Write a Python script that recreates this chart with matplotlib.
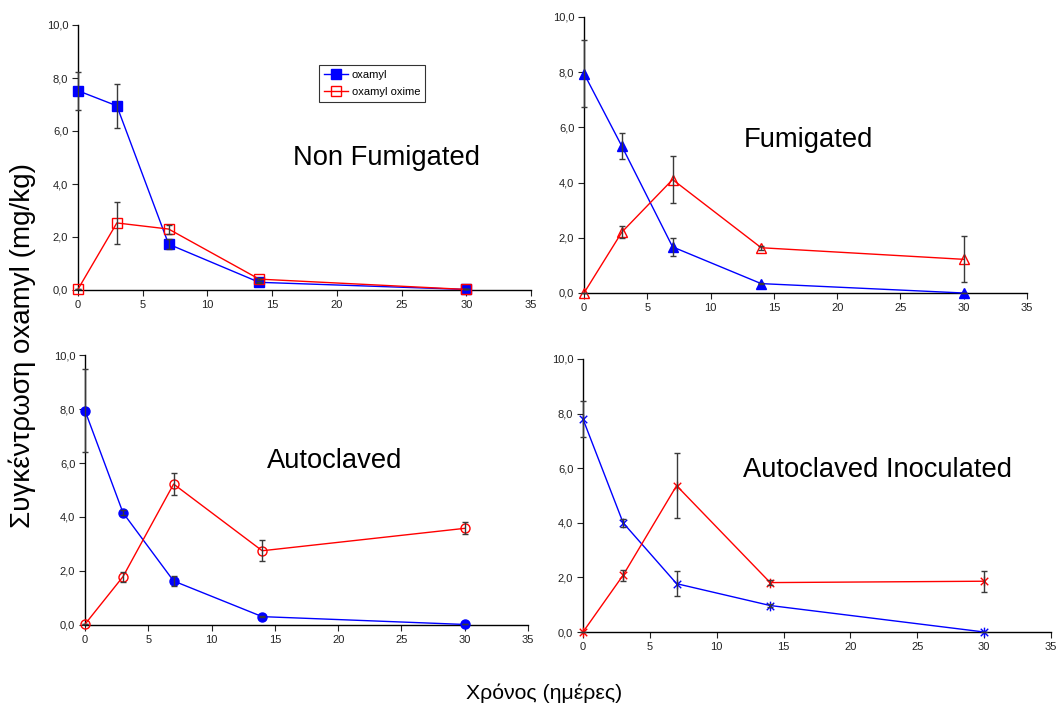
import matplotlib
matplotlib.use("Agg")
import matplotlib.pyplot as plt
from matplotlib.path import Path
from matplotlib.ticker import FuncFormatter, MultipleLocator

plt.rcParams['font.family'] = ['Liberation Sans', 'DejaVu Sans']

days = [0, 3, 7, 14, 30]

titles = ["Non Fumigated", "Fumigated", "Autoclaved", "Autoclaved Inoculated"]

oxamyl_nonfum = [7.52, 6.95, 1.73, 0.29, 0.02]
oxamyl_nonfum_err = [0.72, 0.84, 0.18, 0.03, 0.0]
oxime_nonfum = [0.03, 2.53, 2.30, 0.41, 0.02]
oxime_nonfum_err = [0.0, 0.80, 0.17, 0.05, 0.0]

oxamyl_fum = [7.95, 5.31, 1.67, 0.34, 0.0]
oxamyl_fum_err = [1.20, 0.47, 0.33, 0.03, 0.0]
oxime_fum = [0.0, 2.21, 4.11, 1.64, 1.22]
oxime_fum_err = [0.0, 0.20, 0.85, 0.08, 0.83]

oxamyl_auto = [7.94, 4.16, 1.63, 0.31, 0.02]
oxamyl_auto_err = [1.55, 0.10, 0.20, 0.03, 0.0]
oxime_auto = [0.03, 1.79, 5.22, 2.75, 3.58]
oxime_auto_err = [0.0, 0.19, 0.40, 0.39, 0.22]

oxamyl_inoc = [7.80, 4.00, 1.77, 0.97, 0.0]
oxamyl_inoc_err = [0.65, 0.15, 0.46, 0.07, 0.0]
oxime_inoc = [0.0, 2.08, 5.36, 1.81, 1.86]
oxime_inoc_err = [0.0, 0.20, 1.20, 0.08, 0.38]

series_names = ["oxamyl", "oxamyl oxime"]

star = Path([(-1, -1), (1, 1), (-1, 1), (1, -1), (0, -1.3), (0, 1.3)],
            [Path.MOVETO, Path.LINETO, Path.MOVETO, Path.LINETO, Path.MOVETO, Path.LINETO])

W, H = 1057, 708
fig = plt.figure(figsize=(W / 100, H / 100), dpi=100)

def rect(x0, x1, ytop, ybot):
    return [x0 / W, 1 - ybot / H, (x1 - x0) / W, (ybot - ytop) / H]

panels = [
    (rect(78, 531, 25, 290), oxamyl_nonfum, oxamyl_nonfum_err, oxime_nonfum, oxime_nonfum_err, 's', 6.5),
    (rect(584, 1027, 17, 293), oxamyl_fum, oxamyl_fum_err, oxime_fum, oxime_fum_err, '^', 7),
    (rect(85, 528, 355, 625), oxamyl_auto, oxamyl_auto_err, oxime_auto, oxime_auto_err, 'o', 6.5),
    (rect(583, 1051, 359, 632), oxamyl_inoc, oxamyl_inoc_err, oxime_inoc, oxime_inoc_err, star, 7),
]

fmt = FuncFormatter(lambda v, p: f"{v:.1f}".replace('.', ','))

axes = []
for (r, a, ae, b, be, mk, ms) in panels:
    ax = fig.add_axes(r)
    axes.append(ax)
    l1, = ax.plot(days, a, color='#0000ff', lw=1.0, marker=mk, ms=ms,
                  mfc='#0000ff', mec='#0000ff', mew=1.0, clip_on=False, zorder=4)
    l2, = ax.plot(days, b, color='#ff0000', lw=1.0, marker=mk, ms=ms,
                  mfc='none', mec='#ff0000', mew=1.0, clip_on=False, zorder=4)
    for y, e in ((a, ae), (b, be)):
        eb = ax.errorbar(days, y, yerr=e, fmt='none', ecolor='#3a3a3a',
                         elinewidth=1.0, capsize=2.3, capthick=1.0, zorder=5)
        for art in eb.get_children():
            art.set_clip_on(False)
    ax.set_xlim(0, 35)
    ax.set_ylim(0, 10)
    ax.xaxis.set_major_locator(MultipleLocator(5))
    ax.yaxis.set_major_locator(MultipleLocator(2))
    ax.yaxis.set_major_formatter(fmt)
    for s in ('top', 'right'):
        ax.spines[s].set_visible(False)
    for s in ('left', 'bottom'):
        ax.spines[s].set_linewidth(1.0)
        ax.spines[s].set_color('black')
    ax.tick_params(direction='out', length=4, width=0.8, labelsize=8, pad=3, colors='#222222')
    ax.patch.set_alpha(0)
    if len(axes) == 1:
        leg = ax.legend([l1, l2], series_names, loc='upper left',
                        bbox_to_anchor=((319 - 78) / 453, 1 - (65 - 25) / 265),
                        fontsize=8, frameon=True, fancybox=False, edgecolor='black',
                        handlelength=2.2, handletextpad=0.3, borderpad=0.45,
                        labelspacing=0.6, borderaxespad=0)
        leg.get_frame().set_linewidth(0.8)

text_pos = [(293, 158), (744, 140), (267, 461), (743, 470)]
for t, (x, y) in zip(titles, text_pos):
    fig.text(x / W, 1 - y / H, t, fontsize=19.7, ha='left', va='center')

fig.text(22 / W, 1 - 345 / H, "Συγκέντρωση oxamyl (mg/kg)", rotation=90,
         fontsize=20, ha='center', va='center')
fig.text(544 / W, 1 - 693 / H, "Χρόνος (ημέρες)", fontsize=15.3, ha='center', va='center')

fig.savefig("out.png", dpi=100)
